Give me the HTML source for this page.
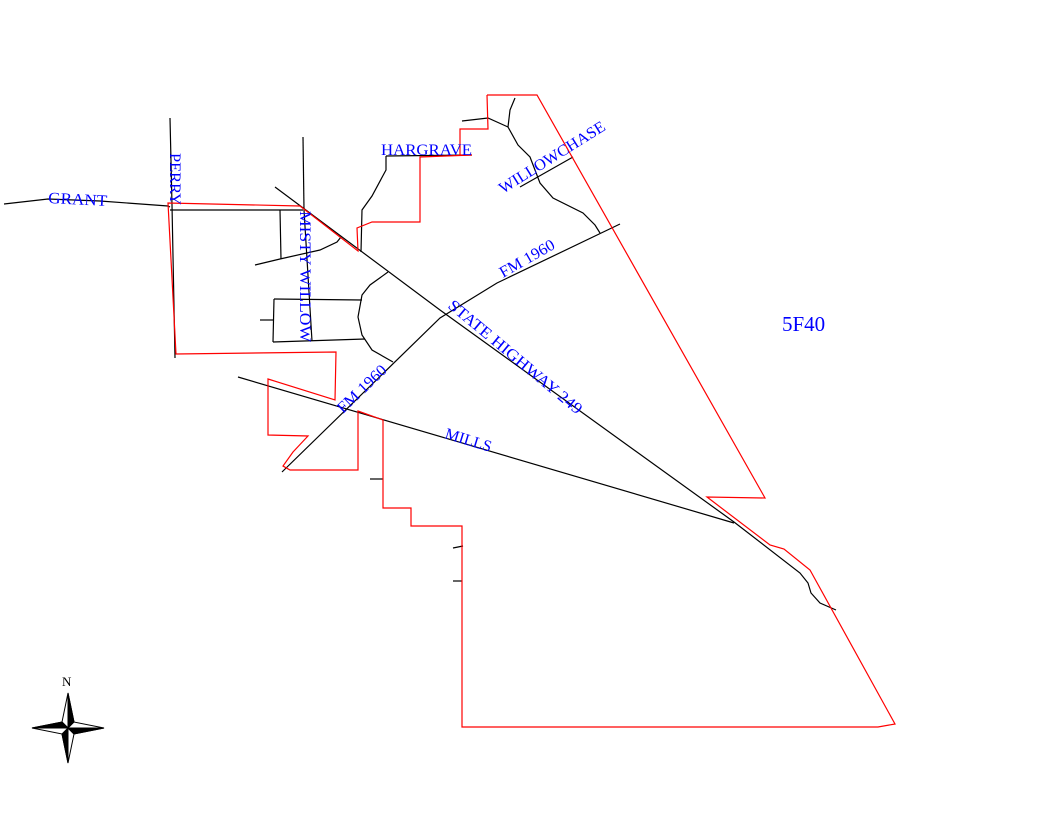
<!DOCTYPE html>
<html><head><meta charset="utf-8"><style>html,body{margin:0;padding:0;background:#fff}svg{display:block}</style></head>
<body>
<svg width="1056" height="816" viewBox="0 0 1056 816" xmlns="http://www.w3.org/2000/svg">
<g fill="none" stroke="#000" stroke-width="1.2">
<polyline points="4,204 48,199 100,201 168,206 170,207"/>
<polyline points="170,210 303,210"/>
<polyline points="170,118 172,205 175,358"/>
<polyline points="303,137 304,210"/>
<polyline points="304,210 312,341"/>
<polyline points="275,187 440,310 734,522 800,573 808,583 811,593 820,603 836,610"/>
<polyline points="238,377 734,523"/>
<polyline points="282,472 440,318 497,283 620,224"/>
<polyline points="280,210 281,259"/>
<polyline points="255,265 280,259 320,250 337,242 341,237"/>
<polyline points="274,299 362,300"/>
<polyline points="273,342 365,339"/>
<polyline points="274,299 273,342"/>
<polyline points="260,320 274,320"/>
<polyline points="388,272 370,285 362,295 358,317 362,335 372,350 393,362"/>
<polyline points="386,156 472,155"/>
<polyline points="386,156 386,170 372,196 362,210 361,252"/>
<polyline points="462,121 488,118 508,127"/>
<polyline points="515,98 510,110 508,127 518,145 530,157 540,183 553,198 583,213 595,225 600,233"/>
<polyline points="520,187 573,157"/>
<polyline points="370,479 383,479"/>
<polyline points="453,548 463,546"/>
<polyline points="453,581 462,581"/>
</g>
<polyline fill="none" stroke="#f00" stroke-width="1.2" points="487,95 537,95 765,498 707,497 770,545 784,549 810,570 895,724 878,727 462,727 462,526 411,526 411,508 383,508 383,420 358,411 358,470 290,470 283,466 293,452 308,436 268,435 268,379 335,400 336,352 176,354 168,203 300,206 358,251 357,228 372,222 420,222 420,157 472,155 460,155 460,129 488,129 487,95"/>
<g font-family="Liberation Serif, serif" font-size="16" fill="#00f" lengthAdjust="spacingAndGlyphs">
<text x="48" y="203" textLength="59" lengthAdjust="spacingAndGlyphs" transform="rotate(3 48 203)">GRANT</text>
<text x="170" y="153" textLength="52" lengthAdjust="spacingAndGlyphs" transform="rotate(90 170 153)">PERRY</text>
<text x="381" y="155" textLength="91" lengthAdjust="spacingAndGlyphs">HARGRAVE</text>
<text x="503" y="194" textLength="122" lengthAdjust="spacingAndGlyphs" transform="rotate(-32 503 194)">WILLOWCHASE</text>
<text x="300" y="211" textLength="131" lengthAdjust="spacingAndGlyphs" transform="rotate(90 300 211)">MISTY WILLOW</text>
<text x="503" y="278" textLength="61" lengthAdjust="spacingAndGlyphs" transform="rotate(-29.5 503 278)">FM 1960</text>
<text x="447" y="307" textLength="169" lengthAdjust="spacingAndGlyphs" transform="rotate(39.7 447 307)">STATE HIGHWAY 249</text>
<text x="343" y="414" textLength="62" lengthAdjust="spacingAndGlyphs" transform="rotate(-43.7 343 414)">FM 1960</text>
<text x="444" y="438" textLength="48" lengthAdjust="spacingAndGlyphs" transform="rotate(17 444 438)">MILLS</text>
<text x="782" y="331" font-size="21">5F40</text>
</g>
<text x="62" y="686" font-family="Liberation Serif, serif" font-size="13" fill="#000">N</text>
<g stroke="#000" stroke-width="1">
<polygon points="68,693 74,722 68,728 62,722" fill="#fff"/>
<polygon points="68,693 74,722 68,728" fill="#000"/>
<polygon points="68,763 62,734 68,728 74,734" fill="#fff"/>
<polygon points="68,763 62,734 68,728" fill="#000"/>
<polygon points="32,728 62,722 68,728 62,734" fill="#fff"/>
<polygon points="32,728 62,722 68,728" fill="#000"/>
<polygon points="104,728 74,734 68,728 74,722" fill="#fff"/>
<polygon points="104,728 74,734 68,728" fill="#000"/>
</g>
</svg>
</body></html>
